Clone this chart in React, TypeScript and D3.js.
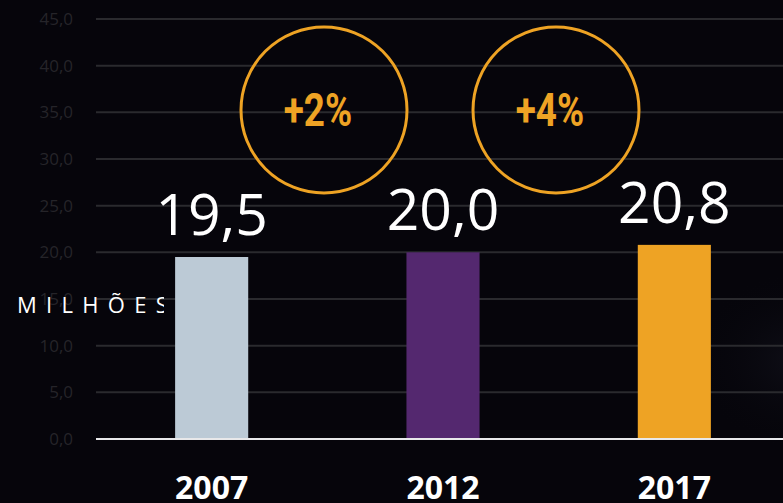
import React from "react";
import * as d3 from "d3";

const years = ["2007", "2012", "2017"];
const values = [19.5, 20.0, 20.8];
const valueLabels = ["19,5", "20,0", "20,8"];
const barColors = ["#bccad6", "#54286f", "#eea324"];
const yTicks = [0, 5, 10, 15, 20, 25, 30, 35, 40, 45];
const growthLabels = ["+2%", "+4%"];

const W = 783;
const H = 503;

export default function App() {
  const x = d3.scaleBand<string>().domain(years).range([96, 790]).paddingInner(0.684).paddingOuter(0.342);
  const y = d3.scaleLinear().domain([0, 45]).range([439, 19]);
  const fmt = (v: number) => v.toFixed(1).replace(".", ",");
  const bw = x.bandwidth();
  const circles = [
    { cx: 324, cy: 110, label: growthLabels[0] },
    { cx: 556, cy: 110, label: growthLabels[1] },
  ];
  return (
    <svg width={W} height={H} style={{ position: "absolute", left: 0, top: 0, display: "block" }}>
      <defs>
        <clipPath id="milclip">
          <rect x={0} y={280} width={164} height={50} />
        </clipPath>
        <radialGradient id="glow" cx="0.5" cy="0.5" r="0.5">
          <stop offset="0%" stopColor="#101019" stopOpacity={0.9} />
          <stop offset="100%" stopColor="#06050b" stopOpacity={0} />
        </radialGradient>
      </defs>
      <rect width={W} height={H} fill="#06050b" />
      <ellipse cx={800} cy={360} rx={110} ry={90} fill="url(#glow)" />
      {yTicks.map((t) => (
        <g key={t}>
          {t > 0 && <line x1={96} x2={W} y1={y(t)} y2={y(t)} stroke="#2a2a2e" strokeWidth={2} />}
          <text x={73} y={y(t)} dy="0.35em" textAnchor="end" fill="#252429" fontFamily="'Open Sans', sans-serif" fontSize={17}>
            {fmt(t)}
          </text>
        </g>
      ))}
      <text x={17} y={305} dy="0.35em" fill="#ffffff" fontFamily="'Open Sans', sans-serif" fontSize={22} letterSpacing={9.3} clipPath="url(#milclip)">
        MILHÕES
      </text>
      {years.map((yr, i) => (
        <g key={yr}>
          <rect x={x(yr)} y={y(values[i])} width={bw} height={y(0) - y(values[i])} fill={barColors[i]} />
          <text x={(x(yr) as number) + bw / 2} y={y(values[i]) - 22} textAnchor="middle" fill="#ffffff" fontFamily="'Open Sans', sans-serif" fontSize={57}>
            {valueLabels[i]}
          </text>
          <text x={(x(yr) as number) + bw / 2} y={499} textAnchor="middle" fill="#ffffff" fontFamily="'Open Sans', sans-serif" fontWeight="bold" fontSize={32}>
            {yr}
          </text>
        </g>
      ))}
      <line x1={96} x2={W} y1={y(0)} y2={y(0)} stroke="#e8e8ea" strokeWidth={2} />
      {circles.map((c) => (
        <g key={c.label}>
          <circle cx={c.cx} cy={c.cy} r={83} fill="none" stroke="#eea324" strokeWidth={3} />
          <text
            transform={`translate(${c.cx - 6},${c.cy}) scale(0.8,1)`}
            dy="0.35em"
            textAnchor="middle"
            fill="#eea324"
            fontFamily="Roboto, sans-serif"
            fontWeight="bold"
            fontSize={46}
          >
            {c.label}
          </text>
        </g>
      ))}
    </svg>
  );
}
